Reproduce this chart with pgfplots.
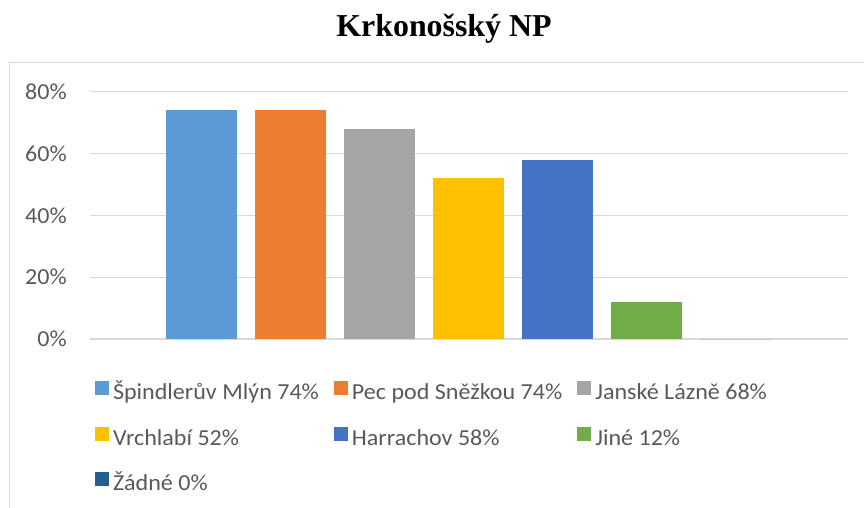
\documentclass[border=0pt]{standalone}
\usepackage{fontspec}
\setmainfont{Carlito}[FakeStretch=1.05]
\newfontfamily\titlefont{Liberation Serif}
\usepackage{pgfplots}
\pgfplotsset{compat=1.18}
\definecolor{c1}{HTML}{5B9BD5}
\definecolor{c2}{HTML}{ED7D31}
\definecolor{c3}{HTML}{A5A5A5}
\definecolor{c4}{HTML}{FFC000}
\definecolor{c5}{HTML}{4472C4}
\definecolor{c6}{HTML}{70AD47}
\definecolor{c7}{HTML}{255E91}
\definecolor{gridc}{HTML}{D9D9D9}
\definecolor{framec}{HTML}{D9D9D9}
\definecolor{tickc}{HTML}{595959}
\begin{document}
\begin{tikzpicture}
\path[use as bounding box] (0bp,0bp) rectangle (864bp,508bp);
\draw[framec, line width=1bp] (9bp,-5bp) rectangle (870bp,445.7bp);
\node[font=\titlefont\bfseries\fontsize{32}{36}\selectfont, anchor=base] at (444bp,471.3bp) {Krkonošský NP};
\begin{axis}[
  at={(90bp,169bp)}, anchor=south west, scale only axis,
  width=758bp, height=247.3bp,
  xmin=-1.253, xmax=7.264, ymin=0, ymax=80,
  ytick={0,20,40,60,80},
  yticklabel={\pgfmathprintnumber{\tick}\%},
  /pgf/number format/assume math mode=true,
  ymajorgrids, grid style={gridc, line width=1.3bp},
  axis line style={draw=none},
  xtick=\empty, major tick length=0pt,
  tick label style={font=\fontsize{23}{27}\selectfont, text=tickc},
  yticklabel style={anchor=east, inner sep=0pt, xshift=-23bp},
  clip=false,
  legend columns=3,
  legend image code/.code={\path[#1,draw=none] (0bp,-1bp) rectangle (14bp,13bp);},
  legend style={
    at={(0.0066,-0.171)}, anchor=north west, draw=none, fill=none,
    inner sep=0pt, outer sep=0pt,
    font=\fontsize{23}{27}\selectfont, text=tickc,
    row sep=22bp,
    nodes={inner sep=0pt, text height=16bp, text depth=5bp},
    /tikz/every odd column/.append style={column sep=4bp},
    /tikz/every even column/.append style={column sep=15bp},
  },
  legend cell align=left,
]
\addplot[ybar, bar width=0.8, bar shift=0pt, fill=c1, draw=none] coordinates {(0,74)};
\addlegendentry{Špindlerův Mlýn 74\%}
\addplot[ybar, bar width=0.8, bar shift=0pt, fill=c2, draw=none] coordinates {(1,74)};
\addlegendentry{Pec pod Sněžkou 74\%}
\addplot[ybar, bar width=0.8, bar shift=0pt, fill=c3, draw=none] coordinates {(2,68)};
\addlegendentry{Janské Lázně 68\%}
\addplot[ybar, bar width=0.8, bar shift=0pt, fill=c4, draw=none] coordinates {(3,52)};
\addlegendentry{Vrchlabí 52\%}
\addplot[ybar, bar width=0.8, bar shift=0pt, fill=c5, draw=none] coordinates {(4,58)};
\addlegendentry{Harrachov 58\%}
\addplot[ybar, bar width=0.8, bar shift=0pt, fill=c6, draw=none] coordinates {(5,12)};
\addlegendentry{Jiné 12\%}
\addplot[ybar, bar width=0.8, bar shift=0pt, fill=c7, draw=none] coordinates {(6,0)};
\addlegendentry{Žádné 0\%}
\end{axis}
\end{tikzpicture}
\end{document}
